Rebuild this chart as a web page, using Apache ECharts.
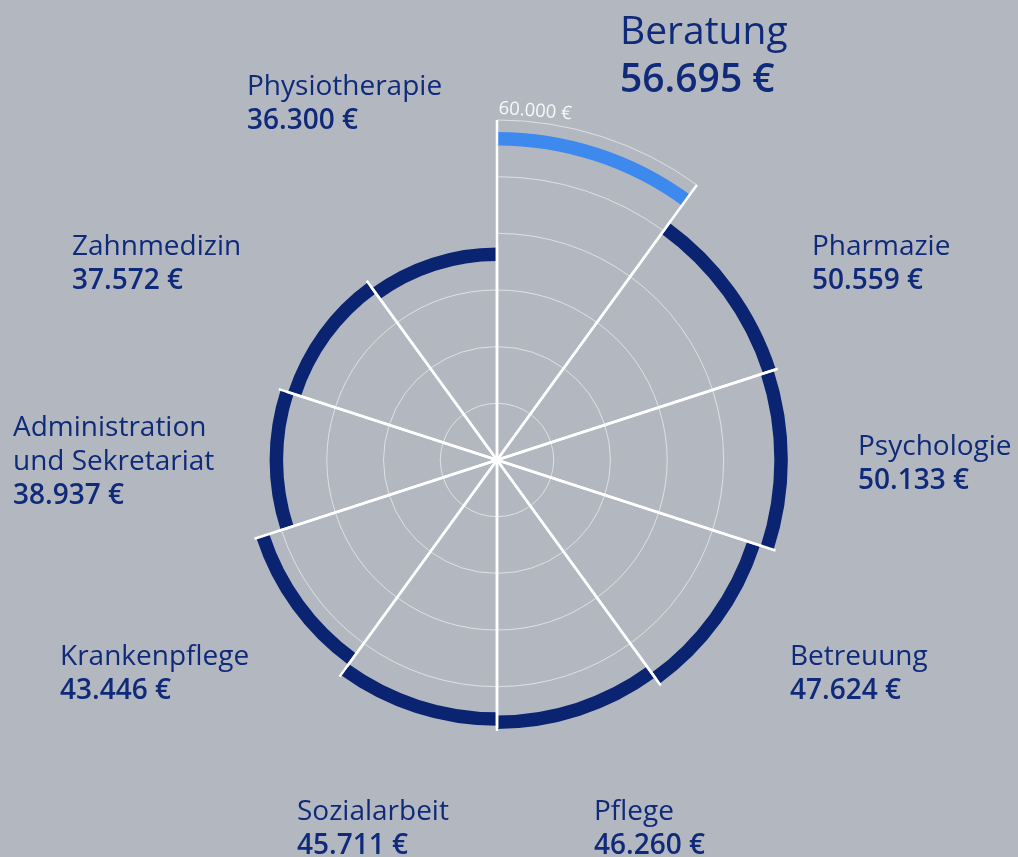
<!DOCTYPE html>
<html>
<head>
<meta charset="utf-8">
<script src="https://cdn.jsdelivr.net/npm/echarts@6/dist/echarts.min.js"></script>
<style>
    html, body { margin: 0; padding: 0; background: #b3b8c0; }
    #chart { width: 1018px; height: 857px; }
</style>
</head>
<body>
<div id="chart"></div>
<script>
// Kosten je Fachbereich (Euro)
var categories = ['Beratung', 'Pharmazie', 'Psychologie', 'Betreuung', 'Pflege',
    'Sozialarbeit', 'Krankenpflege', 'Administration\nund Sekretariat', 'Zahnmedizin', 'Physiotherapie'];
var values = [56695, 50559, 50133, 47624, 46260, 45711, 43446, 38937, 37572, 36300];
var gridTicks = [10000, 20000, 30000, 40000, 50000, 60000];
var scaleMax = 60000;
var highlighted = 'Beratung';

// text blocks: left edge / cap top, in px from the polar centre
var labelOffset = [
    [123, -445], [315, -226], [361, -26], [293, 184], [97, 339],
    [-200, 339], [-437, 184], [-484, -45], [-425, -226], [-250, -386]
];

var NAVY = '#0b2472';
var BLUE = '#3d89ee';
var TEXT = '#102a7a';
var BAND = 13.5;

function euro(v) {
    return String(v).replace(/\B(?=(\d{3})+(?!\d))/g, '.') + ' €';
}

function renderSector(params, api) {
    var i = params.dataIndex;
    var v = api.value(0);
    var cs = params.coordSys;
    var cx = cs.cx, cy = cs.cy;
    var p = api.coord([v, i]);
    var rv = p[2];
    var mid = -p[3];
    var half = Math.PI / categories.length;
    var a0 = mid - half, a1 = mid + half;
    var hot = categories[i] === highlighted;
    var reach = hot ? api.coord([scaleMax, i])[2] : rv + BAND / 2 + 2;
    var kids = [];

    // grid rings, only inside the sector
    gridTicks.forEach(function (t) {
        if (!hot && t >= v) return;
        var rt = api.coord([t, i])[2];
        kids.push({
            type: 'arc',
            shape: {cx: cx, cy: cy, r: rt, startAngle: a0, endAngle: a1, clockwise: true},
            style: {stroke: 'rgba(255,255,255,0.55)', lineWidth: 1, fill: null},
            z2: 1
        });
    });

    kids.push({
        type: 'sector',
        shape: {cx: cx, cy: cy, r0: rv - BAND / 2, r: rv + BAND / 2, startAngle: a0, endAngle: a1, clockwise: true},
        style: {fill: hot ? BLUE : NAVY},
        z2: 2
    });

    [a0, a1].forEach(function (a) {
        kids.push({
            type: 'line',
            shape: {x1: cx, y1: cy, x2: cx + reach * Math.cos(a), y2: cy + reach * Math.sin(a)},
            style: {stroke: '#ffffff', lineWidth: 2.5},
            z2: 3
        });
    });

    if (hot) {
        kids.push({
            type: 'text',
            x: cx + 1,
            y: cy - reach - 2,
            rotation: -0.075,
            style: {
                text: euro(scaleMax),
                fill: 'rgba(255,255,255,0.9)',
                fontFamily: 'Open Sans',
                fontSize: 18.5,
                align: 'left',
                verticalAlign: 'bottom'
            },
            z2: 4
        });
    }

    var lines = categories[i].split('\n');
    var txt = lines.map(function (s) { return '{' + (hot ? 'hn' : 'n') + '|' + s + '}'; }).join('\n')
        + '\n{' + (hot ? 'hv' : 'v') + '|' + euro(v) + '}';
    var off = labelOffset[i];
    kids.push({
        type: 'text',
        x: cx + off[0],
        y: cy + off[1] - (hot ? 6 : 4),
        style: {
            text: txt,
            align: 'left',
            verticalAlign: 'top',
            fill: TEXT,
            fontFamily: 'Open Sans',
            rich: {
                n: {fontSize: 28, lineHeight: 34, fill: TEXT, fontFamily: 'Open Sans'},
                v: {fontSize: 28, lineHeight: 34, fill: TEXT, fontFamily: 'Open Sans', fontWeight: 600},
                hn: {fontSize: 39, lineHeight: 48, fill: TEXT, fontFamily: 'Open Sans'},
                hv: {fontSize: 39, lineHeight: 48, fill: TEXT, fontFamily: 'Open Sans', fontWeight: 600}
            }
        },
        z2: 4
    });

    return {type: 'group', children: kids};
}

var myChart = echarts.init(document.getElementById('chart'));
myChart.setOption({
    backgroundColor: '#b3b8c0',
    animation: false,
    polar: {center: [497, 460], radius: 340},
    angleAxis: {type: 'category', data: categories, startAngle: 90, clockwise: true, show: false},
    radiusAxis: {type: 'value', min: 0, max: scaleMax, interval: 10000, show: false},
    series: [{
        type: 'custom',
        coordinateSystem: 'polar',
        data: values.map(function (v, i) { return [v, i]; }),
        encode: {radius: 0, angle: 1},
        renderItem: renderSector
    }]
});
</script>
</body>
</html>
